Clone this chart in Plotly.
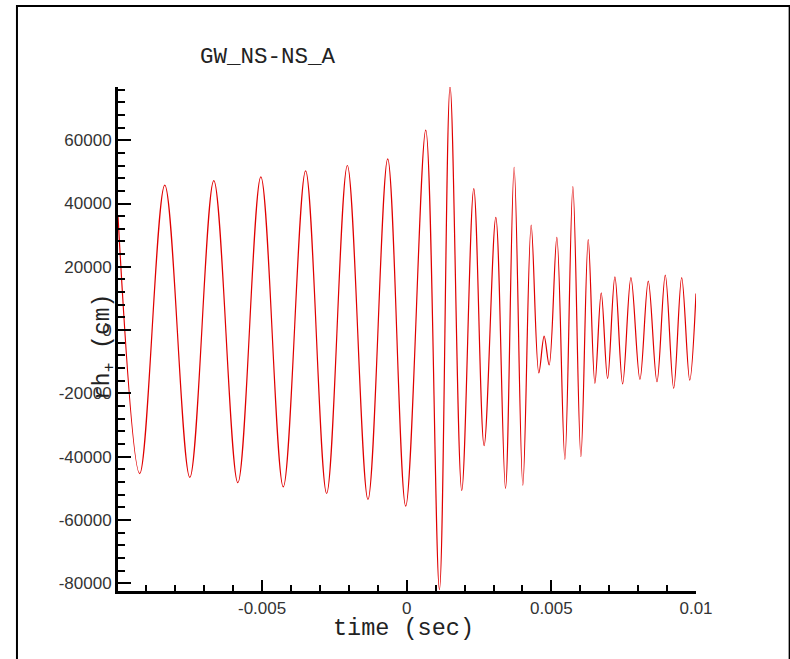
import plotly.graph_objects as go

# waveform (peaks / troughs), time in sec, rh+ in cm
time_sec = [-0.00998, -0.009228, -0.008363, -0.007498, -0.006668, -0.005837, -0.005042,
            -0.004267, -0.003495, -0.002768, -0.002052, -0.001339, -0.000657, -0.000035,
            0.000657, 0.001131, 0.001499, 0.001903, 0.002318, 0.002675, 0.003080,
            0.003414, 0.003713, 0.004014, 0.004302, 0.004567, 0.004751, 0.004924,
            0.005190, 0.005467, 0.005744, 0.006021, 0.006274, 0.006505, 0.006724,
            0.006944, 0.007197, 0.007464, 0.007751, 0.008062, 0.008350, 0.008651,
            0.008938, 0.009228, 0.009505, 0.009782, 0.01]
rh_plus = [36000, -45300, 45800, -46500, 47200, -48200, 48400,
           -49500, 50300, -51600, 52000, -53500, 54100, -55600,
           63200, -82000, 77000, -50700, 44700, -36500, 35600,
           -50000, 51400, -49000, 33200, -13500, -1900, -11000,
           29300, -40800, 45300, -40000, 28600, -16800, 11800,
           -15300, 16800, -17000, 16600, -15600, 15500, -16300,
           17400, -18400, 16600, -15800, 11600]

x_tick_vals = [-0.005, 0, 0.005, 0.01]
x_tick_text = ['-0.005', '0', '0.005', '0.01']
y_tick_vals = [-80000, -60000, -40000, -20000, 0, 20000, 40000, 60000]
y_tick_text = ['-80000', '-60000', '-40000', '-20000', '0', '20000', '40000', '60000']

fig = go.Figure()

fig.add_trace(go.Scatter(x=time_sec, y=rh_plus, mode='lines',
                         line=dict(color='#e00000', width=1.2, shape='spline', smoothing=1.0),
                         showlegend=False))

tick_font = dict(family='Liberation Sans', size=17, color='#333333')

fig.update_layout(
    width=790, height=659,
    margin=dict(l=118, r=94, t=87, b=68),
    paper_bgcolor='white', plot_bgcolor='white',
    showlegend=False,
)

fig.update_xaxes(range=[-0.00998, 0.01], tickmode='array', tickvals=x_tick_vals, ticktext=x_tick_text,
                 ticks='inside', ticklen=11, tickwidth=2, tickcolor='black',
                 showline=True, linecolor='black', linewidth=3, showgrid=False, zeroline=False,
                 tickfont=tick_font,
                 minor=dict(tickmode='linear', tick0=0, dtick=0.001, ticks='inside',
                            ticklen=6, tickwidth=2, tickcolor='black', showgrid=False))
fig.update_yaxes(range=[-82400, 76800], tickmode='array', tickvals=y_tick_vals, ticktext=y_tick_text,
                 ticks='inside', ticklen=13, tickwidth=2, tickcolor='black',
                 showline=True, linecolor='black', linewidth=3, showgrid=False, zeroline=False,
                 tickfont=tick_font,
                 minor=dict(tickmode='linear', tick0=0, dtick=4000, ticks='inside',
                            ticklen=7, tickwidth=2, tickcolor='black', showgrid=False))

# titles as annotations
fig.add_annotation(text='GW_NS-NS_A', xref='paper', yref='paper', x=0.2595, y=1.0595,
                   xanchor='center', yanchor='middle', showarrow=False,
                   font=dict(family='Liberation Mono', size=22.5, color='#222222'))
fig.add_annotation(text='time (sec)', xref='paper', yref='paper', x=0.4948, y=-0.0744,
                   xanchor='center', yanchor='middle', showarrow=False,
                   font=dict(family='Liberation Mono', size=23.5, color='#222222'))
fig.add_annotation(text='rh<sub>+</sub> (cm)', xref='paper', yref='paper', x=-0.0235, y=0.485,
                   xanchor='center', yanchor='middle', textangle=-90, showarrow=False,
                   font=dict(family='Liberation Mono', size=23, color='#222222'))

# outer frame
fig.add_shape(type='rect', xref='paper', yref='paper', x0=-0.1748, x1=1.162, y0=-0.2, y1=1.1607,
              line=dict(color='black', width=2))

# no page margin so the figure sits at the window's corner
fig.write_html('out.html', config={'displayModeBar': False},
               post_script="document.body.style.margin='0';")
